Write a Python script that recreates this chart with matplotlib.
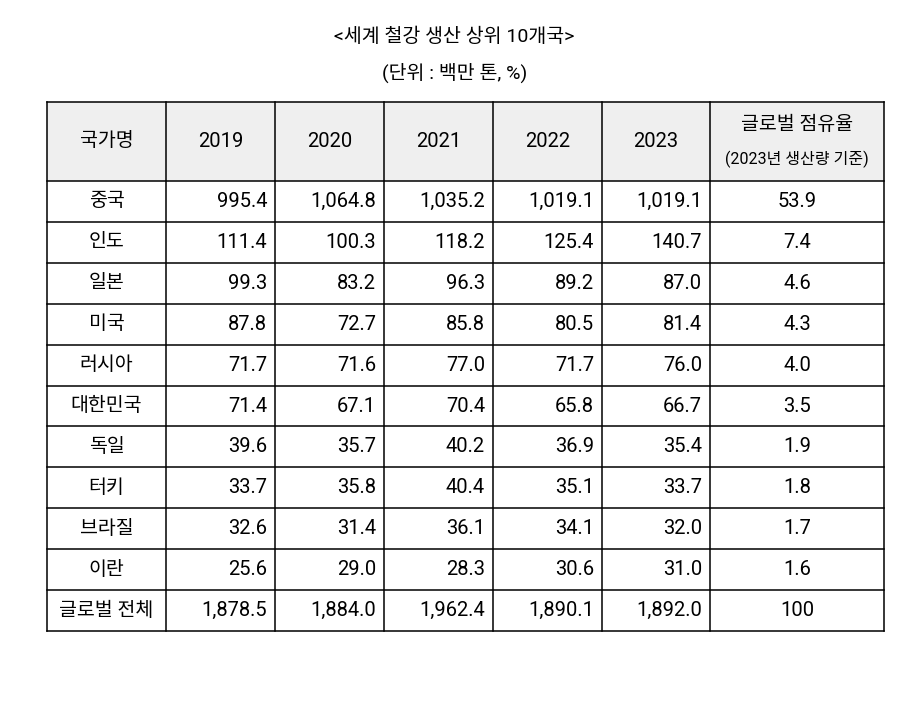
import matplotlib.pyplot as plt

plt.rcParams["font.family"] = ["Roboto", "Noto Sans CJK KR", "DejaVu Sans"]

# 데이터
title = "<세계 철강 생산 상위 10개국>"
subtitle = "(단위 : 백만 톤, %)"
years = ["2019", "2020", "2021", "2022", "2023"]
countries = ["중국", "인도", "일본", "미국", "러시아", "대한민국", "독일", "터키", "브라질", "이란", "글로벌 전체"]
v2019 = [995.4, 111.4, 99.3, 87.8, 71.7, 71.4, 39.6, 33.7, 32.6, 25.6, 1878.5]
v2020 = [1064.8, 100.3, 83.2, 72.7, 71.6, 67.1, 35.7, 35.8, 31.4, 29.0, 1884.0]
v2021 = [1035.2, 118.2, 96.3, 85.8, 77.0, 70.4, 40.2, 40.4, 36.1, 28.3, 1962.4]
v2022 = [1019.1, 125.4, 89.2, 80.5, 71.7, 65.8, 36.9, 35.1, 34.1, 30.6, 1890.1]
v2023 = [1019.1, 140.7, 87.0, 81.4, 76.0, 66.7, 35.4, 33.7, 32.0, 31.0, 1892.0]
share = ["53.9", "7.4", "4.6", "4.3", "4.0", "3.5", "1.9", "1.8", "1.7", "1.6", "100"]

W, H = 917, 703
fig = plt.figure(figsize=(W / 100, H / 100), dpi=100)
ax = fig.add_axes([0, 0, 1, 1])
ax.set_xlim(0, W)
ax.set_ylim(H, 0)
ax.axis("off")

# 표 레이아웃
col_x = [47, 166, 275, 384, 493, 602, 710, 884]
top, head_bot, bot = 102, 181, 631
n = len(countries)
rh = (bot - head_bot) / n
row_y = [head_bot + i * rh for i in range(n + 1)]

ax.add_patch(plt.Rectangle((col_x[0], top), col_x[-1] - col_x[0], head_bot - top,
                           facecolor="#efefef", edgecolor="none"))
for x in col_x:
    ax.plot([x, x], [top, bot], color="black", lw=1.1)
for y in [top] + row_y:
    ax.plot([col_x[0], col_x[-1]], [y, y], color="black", lw=1.1)

fs = 14        # 한글
fn = 14.5      # 숫자
ax.text(W / 2 - 4, 37, title, ha="center", va="center", fontsize=14)
ax.text(W / 2 - 4, 73, subtitle, ha="center", va="center", fontsize=14)

hy = (top + head_bot) / 2
ax.text((col_x[0] + col_x[1]) / 2, hy, "국가명", ha="center", va="center", fontsize=fs)
for j, yr in enumerate(years):
    ax.text((col_x[j + 1] + col_x[j + 2]) / 2, hy, yr, ha="center", va="center", fontsize=fn)
cx = (col_x[6] + col_x[7]) / 2
ax.text(cx, hy - 17, "글로벌 점유율", ha="center", va="center", fontsize=fs)
ax.text(cx, hy + 18, "(2023년 생산량 기준)", ha="center", va="center", fontsize=11.5)

series = [v2019, v2020, v2021, v2022, v2023]
for i, c in enumerate(countries):
    y = (row_y[i] + row_y[i + 1]) / 2
    ax.text((col_x[0] + col_x[1]) / 2, y, c, ha="center", va="center", fontsize=fs)
    for j, s in enumerate(series):
        ax.text(col_x[j + 2] - 8, y, f"{s[i]:,.1f}", ha="right", va="center", fontsize=fn)
    ax.text(cx, y, share[i], ha="center", va="center", fontsize=fn)

fig.savefig("out.png", dpi=100, facecolor="white")
